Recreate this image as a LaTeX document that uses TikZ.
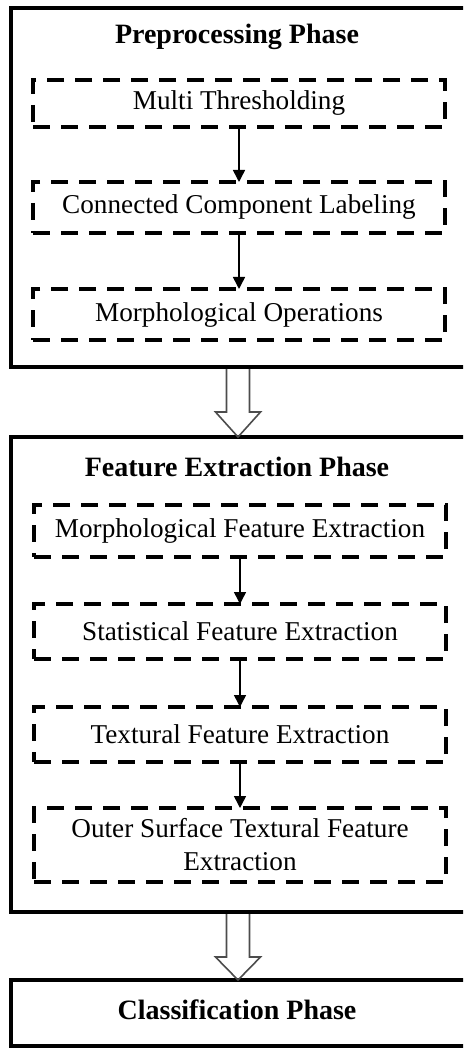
\documentclass[tikz,border=0pt]{standalone}
\usepackage{fontspec}
\setmainfont{Liberation Serif}
\usetikzlibrary{arrows.meta}
\begin{document}
\begin{tikzpicture}[x=1pt,y=-1pt,
  phase/.style={draw, line width=4pt, inner sep=0pt, outer sep=0pt},
  stepbox/.style={draw, line width=3.2pt, dash pattern=on 17pt off 11pt,
    inner sep=0pt, outer sep=0pt, align=center,
    font=\fontsize{27.2}{33}\selectfont},
  titletext/.style={font=\bfseries\fontsize{28}{33}\selectfont, inner sep=0pt},
  flow/.style={-{Triangle[length=12pt,width=12pt]}, line width=1.5pt},
  hollow/.style={draw=black!70, line width=1.6pt, line join=miter}]
\useasboundingbox (0,0) rectangle (463,1048);
\clip (0,0) rectangle (463,1048);

% Preprocessing phase
\node[phase, minimum width=458pt, minimum height=359pt] (pre) at (240,187.5) {};
\node[titletext] (pretitle) at (237,37) {Preprocessing Phase};
\node[stepbox, minimum width=412pt, minimum height=47pt] (mt) at (239,103.5) {Multi Thresholding};
\node[stepbox, minimum width=412pt, minimum height=51pt] (ccl) at (239,207.5) {Connected Component Labeling};
\node[stepbox, minimum width=412pt, minimum height=51pt] (mo) at (239,314.5) {Morphological Operations};
\draw[flow] (mt.south) -- (ccl.north);
\draw[flow] (ccl.south) -- (mo.north);

% Feature extraction phase
\node[phase, minimum width=458pt, minimum height=475pt] (fe) at (240,674.5) {};
\node[titletext] (fetitle) at (237,467) {Feature Extraction Phase};
\node[stepbox, minimum width=412pt, minimum height=52pt] (mfe) at (240,531) {Morphological Feature Extraction};
\node[stepbox, minimum width=412pt, minimum height=55pt] (sfe) at (240,631.5) {Statistical Feature Extraction};
\node[stepbox, minimum width=412pt, minimum height=55pt] (tfe) at (240,734.5) {Textural Feature Extraction};
\node[stepbox, minimum width=412pt, minimum height=74pt] (osfe) at (240,845) {Outer Surface Textural Feature\\Extraction};
\draw[flow] (mfe.south) -- (sfe.north);
\draw[flow] (sfe.south) -- (tfe.north);
\draw[flow] (tfe.south) -- (osfe.north);

% Classification phase
\node[phase, minimum width=458pt, minimum height=66pt] (cls) at (240,1013) {};
\node[titletext] (clstitle) at (237,1010) {Classification Phase};

% hollow arrows between phases
\draw[hollow] ([xshift=-13.5pt,yshift=-2pt]pre.south) -- ++(0,43) -- ++(-11,0)
  -- ([xshift=-2pt]fe.north) -- ++(22.5,-25) -- ++(-11,0) -- ([xshift=9.5pt,yshift=-2pt]pre.south);
\draw[hollow] ([xshift=-13.5pt,yshift=-2pt]fe.south) -- ++(0,43) -- ++(-11,0)
  -- ([xshift=-2pt]cls.north) -- ++(22.5,-23) -- ++(-11,0) -- ([xshift=9.5pt,yshift=-2pt]fe.south);
\end{tikzpicture}
\end{document}
